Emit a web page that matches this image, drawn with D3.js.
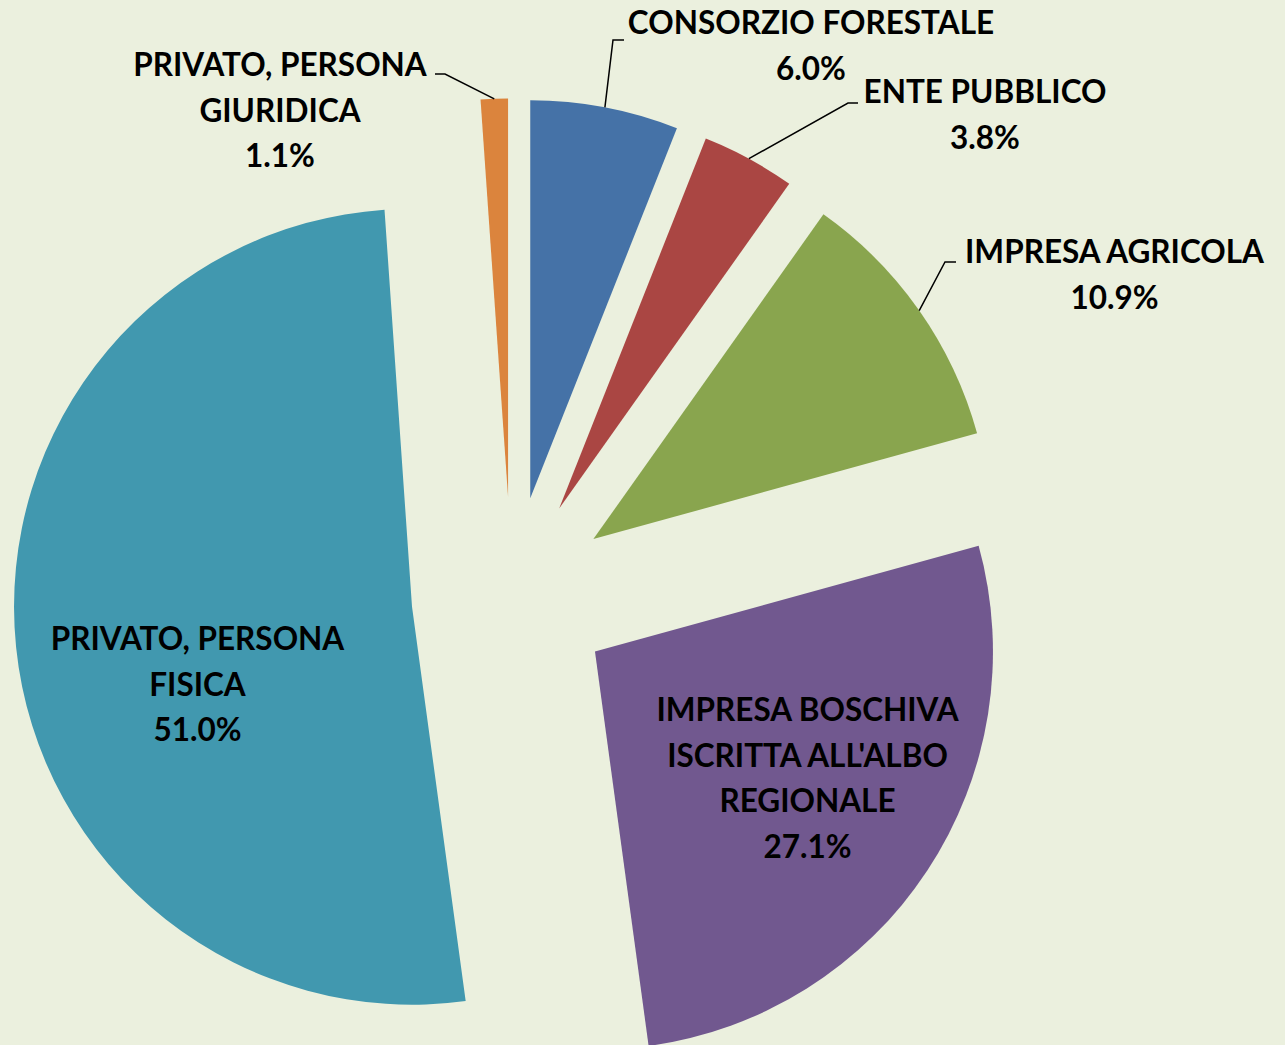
<!DOCTYPE html>
<html>
<head>
<meta charset="utf-8">
<script src="https://cdn.jsdelivr.net/npm/d3@7"></script>
<style>
  html, body { margin: 0; padding: 0; background: #ebf0de; }
  svg { display: block; }
  .lbl { font-family: Lato, "Open Sans", sans-serif; font-weight: bold; fill: #000; }
</style>
</head>
<body>
<script>
// data, clockwise from 12 o'clock
var categories = ["CONSORZIO FORESTALE", "ENTE PUBBLICO", "IMPRESA AGRICOLA",
    "IMPRESA BOSCHIVA ISCRITTA ALL'ALBO REGIONALE", "PRIVATO, PERSONA FISICA",
    "PRIVATO, PERSONA GIURIDICA"];
var shares = [6.0, 3.8, 10.9, 27.1, 51.0, 1.1];
var labelLines = [
    ["CONSORZIO FORESTALE"],
    ["ENTE PUBBLICO"],
    ["IMPRESA AGRICOLA"],
    ["IMPRESA BOSCHIVA", "ISCRITTA ALL'ALBO", "REGIONALE"],
    ["PRIVATO, PERSONA", "FISICA"],
    ["PRIVATO, PERSONA", "GIURIDICA"]
];
var colors = ["#4572a7", "#aa4643", "#89a54e", "#71588f", "#4198af", "#db843d"];

// layout
var width = 1285, height = 1045;
var cx = 511.5, cy = 596.5;
var radius = 398, explode = 100;
var fontSize = 31.5, lineGap = 45.5;
// label anchor: text centre x, first baseline y; leader: [end x, y, elbow dx]
var labelPos = [
    { x: 811, y: 34, leader: [624, 40, -11] },
    { x: 985, y: 103, leader: [858, 103, -10] },
    { x: 1114.5, y: 263, leader: [956, 262, -11] },
    { x: 807.5, y: 721 },
    { x: 197.5, y: 650 },
    { x: 280, y: 76, leader: [435, 74, 10] }
];

var svg = d3.select("body").append("svg")
    .attr("width", width)
    .attr("height", height);

svg.append("rect")
    .attr("width", width)
    .attr("height", height)
    .attr("fill", "#ebf0de");

var pie = d3.pie().sort(null).value(function(d) { return d; });
var arc = d3.arc().innerRadius(0).outerRadius(radius);
var arcs = pie(shares);

function offset(d) {
    var a = (d.startAngle + d.endAngle) / 2;
    return [cx + explode * Math.sin(a), cy - explode * Math.cos(a)];
}

var g = svg.append("g");

g.selectAll("path.slice")
    .data(arcs)
    .enter().append("path")
    .attr("class", "slice")
    .attr("transform", function(d) { return "translate(" + offset(d) + ")"; })
    .attr("d", arc)
    .attr("fill", function(d, i) { return colors[i]; });

// leader lines
arcs.forEach(function(d, i) {
    var lp = labelPos[i];
    if (!lp.leader) return;
    var o = offset(d);
    var a = (d.startAngle + d.endAngle) / 2;
    var p0 = [o[0] + radius * Math.sin(a), o[1] - radius * Math.cos(a)];
    var end = [lp.leader[0], lp.leader[1]];
    var elbow = [lp.leader[0] + lp.leader[2], lp.leader[1]];
    svg.append("path")
        .attr("d", d3.line()([p0, elbow, end]))
        .attr("fill", "none")
        .attr("stroke", "#000")
        .attr("stroke-width", 1.5);
});

// labels
arcs.forEach(function(d, i) {
    var lp = labelPos[i];
    var lines = labelLines[i].concat([shares[i].toFixed(1) + "%"]);
    var t = svg.append("text")
        .attr("class", "lbl")
        .attr("text-anchor", "middle")
        .attr("font-size", fontSize);
    lines.forEach(function(s, k) {
        t.append("tspan")
            .attr("x", lp.x)
            .attr("y", lp.y + k * lineGap)
            .text(s);
    });
});
</script>
</body>
</html>
